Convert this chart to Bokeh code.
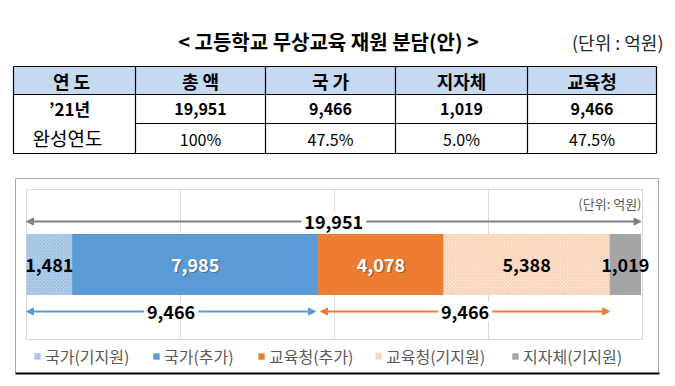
import numpy as np
from bokeh.plotting import figure
from bokeh.models import (ColumnDataSource, Range1d, Arrow, NormalHead, Label, Legend)
from bokeh.layouts import column
from bokeh.core.properties import value
from bokeh.embed import file_html
from bokeh.resources import INLINE

FONT = "Noto Sans CJK KR"

# ---------------- data ----------------
title_text = "< 고등학교 무상교육 재원 분담(안) >"
table_unit = "(단위 : 억원)"
table_headers = ["연 도", "총 액", "국 가", "지자체", "교육청"]
year_lines = ["’21년", "완성연도"]
table_amounts = [19951, 9466, 1019, 9466]
table_shares = ["100%", "47.5%", "5.0%", "47.5%"]

seg_names = ["국가(기지원)", "국가(추가)", "교육청(추가)", "교육청(기지원)", "지자체(기지원)"]
seg_values = [1481, 7985, 4078, 5388, 1019]
total_value = 19951
gov_total = 9466
edu_total = 9466
x_ticks = [0, 5000, 10000, 15000, 20000]
chart_unit = "(단위: 억원)"

# ---------------- layout / styles ----------------
W = 675
T_H = 168
C_H = 218
COL_EDGES = [13, 135, 265, 395, 527, 656]
ROW_EDGES = [66, 94, 123, 153]
HEADER_FILL = "#C5D9F1"
FIRST_COL_X = 69

# chart plot-area placement (canvas px of the chart figure)
PLOT_LEFT, PLOT_RIGHT = 26, 642
PLOT_TOP_PX = 21          # px from top of chart canvas
PLOT_HALF = 75            # half height of plot area in px (1 y-unit = 1 px)
BOX_PX = (15, 658, 10, 205)   # outer chart box: left, right, top, bottom (canvas px)

SEG_FILL = ["#C3D9EF", "#5B9BD5", "#ED7D31", "#FDEADC", "#A5A5A5"]
SEG_HATCH = ["diagonal_cross", None, None, "diagonal_cross", None]
SEG_HATCH_COLOR = ["#7FA9DA", "#5B9BD5", "#ED7D31", "#F4BE98", "#A5A5A5"]
LABEL_COLORS = ["black", "white", "white", "black", "black"]
SHADOW_ALPHA = [0.0, 0.45, 0.45, 0.0, 0.0]
LEGEND_X = [33, 152, 257, 374, 511]

# ---------------- table figure ----------------
t = figure(width=W, height=T_H, x_range=Range1d(0, W), y_range=Range1d(T_H, 0),
           x_axis_type=None, y_axis_type=None, toolbar_location=None,
           output_backend="svg", min_border=0, outline_line_color=None)

t.text(x=[328], y=[41], text=[title_text], text_align="center", text_baseline="middle",
       text_font=value(FONT), text_font_style="bold", text_font_size="20px", text_color="black")
t.text(x=[663], y=[41], text=[table_unit], text_align="right", text_baseline="middle",
       text_font=value(FONT), text_font_size="18px", text_color="#262626")

t.quad(left=[COL_EDGES[0]], right=[COL_EDGES[-1]], top=[ROW_EDGES[0]], bottom=[ROW_EDGES[1]],
       fill_color=HEADER_FILL, line_color=None)
x0s, x1s, y0s, y1s = [], [], [], []
for xe in COL_EDGES:
    x0s.append(xe); x1s.append(xe); y0s.append(ROW_EDGES[0]); y1s.append(ROW_EDGES[-1])
for i, ye in enumerate(ROW_EDGES):
    start = COL_EDGES[1] if i == 2 else COL_EDGES[0]
    x0s.append(start); x1s.append(COL_EDGES[-1]); y0s.append(ye); y1s.append(ye)
t.segment(x0=x0s, y0=y0s, x1=x1s, y1=y1s, line_color="black", line_width=1.2)

col_centers = [(a + b) / 2 for a, b in zip(COL_EDGES[:-1], COL_EDGES[1:])]
row_centers = [(a + b) / 2 for a, b in zip(ROW_EDGES[:-1], ROW_EDGES[1:])]
hdr_x = [FIRST_COL_X + 2] + col_centers[1:]

hdr_src = ColumnDataSource(dict(x=hdr_x, y=[row_centers[0]] * 5, text=table_headers))
t.text(x="x", y="y", text="text", source=hdr_src, text_align="center", text_baseline="middle",
       text_font=value(FONT), text_font_style="bold", text_font_size="18px", text_color="black")

amt_src = ColumnDataSource(dict(x=col_centers[1:], y=[row_centers[1]] * 4,
                                text=[f"{v:,}" for v in table_amounts]))
t.text(x="x", y="y", text="text", source=amt_src, text_align="center", text_baseline="middle",
       text_font=value(FONT), text_font_style="bold", text_font_size="16px", text_color="black")

shr_src = ColumnDataSource(dict(x=col_centers[1:], y=[row_centers[2]] * 4, text=table_shares))
t.text(x="x", y="y", text="text", source=shr_src, text_align="center", text_baseline="middle",
       text_font=value(FONT), text_font_size="16px", text_color="black")

t.text(x=[FIRST_COL_X], y=[row_centers[1] - 0.5], text=[year_lines[0]], text_align="center",
       text_baseline="middle", text_font=value(FONT), text_font_style="bold",
       text_font_size="17px", text_color="black")
t.text(x=[FIRST_COL_X - 2], y=[row_centers[2] - 1], text=[year_lines[1]], text_align="center",
       text_baseline="middle", text_font=value(FONT), text_font_size="19px", text_color="black")

# ---------------- chart figure ----------------
# frame covers the whole canvas; ranges set so that [0, 20000] maps onto the plot area
units_per_px = (x_ticks[-1] - x_ticks[0]) / (PLOT_RIGHT - PLOT_LEFT)
x_start = x_ticks[0] - PLOT_LEFT * units_per_px
x_end = x_start + W * units_per_px
y_top = PLOT_TOP_PX + PLOT_HALF
c = figure(width=W, height=C_H, x_range=Range1d(x_start, x_end),
           y_range=Range1d(y_top - C_H, y_top),
           x_axis_type=None, y_axis_type=None, toolbar_location=None, output_backend="svg",
           min_border=0, outline_line_color=None)


def px_x(px):
    return x_start + px * units_per_px


def px_y(py):
    return y_top - py


# outer chart box (gray sides/top, dark bottom)
bl, br, bt, bb = px_x(BOX_PX[0]), px_x(BOX_PX[1]), px_y(BOX_PX[2]), px_y(BOX_PX[3])
c.segment(x0=[bl, br, bl], x1=[bl, br, br], y0=[bt, bt, bt], y1=[bb, bb, bt],
          line_color="#A6A6A6", line_width=1)
c.segment(x0=[bl], x1=[br + units_per_px], y0=[bb], y1=[bb], line_color="black", line_width=2)

# plot-area outline and vertical gridlines
c.segment(x0=x_ticks, x1=x_ticks, y0=[-PLOT_HALF] * len(x_ticks), y1=[PLOT_HALF] * len(x_ticks),
          line_color="#D9D9D9", line_width=1)
c.segment(x0=[x_ticks[0]] * 2, x1=[x_ticks[-1]] * 2, y0=[-PLOT_HALF, PLOT_HALF],
          y1=[-PLOT_HALF, PLOT_HALF], line_color="#D9D9D9", line_width=1)

src = ColumnDataSource({"y": [0], **{n: [v] for n, v in zip(seg_names, seg_values)}})
rs = c.hbar_stack(seg_names, y="y", height=61, source=src, fill_color=SEG_FILL,
                  line_color=None, hatch_pattern=SEG_HATCH, hatch_color=SEG_HATCH_COLOR,
                  hatch_scale=3.5, hatch_weight=0.9, hatch_alpha=0.8)

vals = np.array(seg_values, dtype=float)
centers = np.cumsum(vals) - vals / 2
lab_src = ColumnDataSource(dict(x=centers, y=[0] * len(vals), text=[f"{v:,}" for v in seg_values],
                                color=LABEL_COLORS, sa=SHADOW_ALPHA))
c.text(x="x", y="y", text="text", source=lab_src, text_align="center", text_baseline="middle",
       text_font=value(FONT), text_font_style="bold", text_font_size="18px",
       text_color="#404040", text_alpha="sa", x_offset=1.5, y_offset=1.5)
c.text(x="x", y="y", text="text", source=lab_src, text_align="center", text_baseline="middle",
       text_font=value(FONT), text_font_style="bold", text_font_size="18px", text_color="color")

GAP = 80


def add_arrow(xa, xb, y, color, label):
    c.add_layout(Arrow(start=NormalHead(size=7, fill_color=color, line_color=color),
                       end=NormalHead(size=7, fill_color=color, line_color=color),
                       x_start=xa, x_end=xb, y_start=y, y_end=y,
                       line_color=color, line_width=2))
    c.add_layout(Label(x=(xa + xb) / 2, y=y, text=label, text_align="center",
                       text_baseline="middle", text_font=FONT, text_font_style="bold",
                       text_font_size="18px", text_color="black",
                       background_fill_color="white", padding=3))


add_arrow(0, total_value, 43, "#7F7F7F", f"{total_value:,}")
add_arrow(0, gov_total - GAP, -47, "#5B9BD5", f"{gov_total:,}")
add_arrow(gov_total + GAP, gov_total + edu_total, -47, "#ED7D31", f"{edu_total:,}")

c.add_layout(Label(x=641, y=C_H - 35, x_units="screen", y_units="screen", text=chart_unit,
                   text_align="right", text_baseline="middle", text_font=FONT,
                   text_font_size="13px", text_color="#595959"))

for name, r, lx in zip(seg_names, rs, LEGEND_X):
    c.add_layout(Legend(items=[(name, [r])], orientation="horizontal",
                        location=(lx, C_H - 200), border_line_color=None,
                        background_fill_alpha=0, padding=0, margin=0, glyph_width=8,
                        glyph_height=8, label_standoff=4, label_text_font=FONT,
                        label_text_font_size="16px", label_text_color="#595959",
                        label_height=18))

layout = column(t, c)
open("out.html", "w").write(file_html(layout, INLINE))
